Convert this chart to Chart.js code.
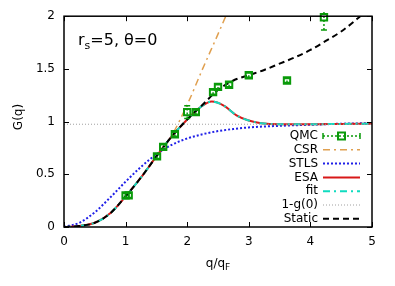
<!DOCTYPE html>
<html>
<head>
<meta charset="utf-8">
<script src="https://cdn.jsdelivr.net/npm/chart.js@4.4.1/dist/chart.umd.min.js"></script>
<style>
  body { margin: 0; background: #fff; }
</style>
</head>
<body>
<canvas id="chart" width="395" height="286"></canvas>
<script>
// values
const qmcQ   = [1.0, 1.05, 1.51, 1.61, 1.80, 2.0, 2.14, 2.42, 2.50, 2.68, 3.0, 3.62, 4.22];
const qmcG   = [0.30, 0.30, 0.67, 0.76, 0.88, 1.09, 1.09, 1.28, 1.33, 1.35, 1.44, 1.39, 1.99];
const qmcErr = [0.02, 0.02, 0.02, 0.02, 0.02, 0.06, 0.02, 0.02, 0.02, 0.02, 0.02, 0.02, 0.12];

const csrQ = [0, 0.25, 0.5, 0.75, 1.0, 1.25, 1.5, 1.75, 2.0, 2.25, 2.5, 2.7];
const csrG = [0, 0.01, 0.04, 0.13, 0.29, 0.47, 0.67, 0.87, 1.16, 1.50, 1.83, 2.10];

const stlsQ = [0, 0.25, 0.5, 0.75, 1.0, 1.25, 1.5, 1.75, 2.0, 2.25, 2.5, 2.75, 3.0, 3.5, 4.0, 4.5, 5.0];
const stlsG = [0, 0.04, 0.14, 0.28, 0.43, 0.57, 0.69, 0.78, 0.84, 0.88, 0.91, 0.93, 0.945, 0.96, 0.97, 0.98, 0.985];

const esaQ = [0, 0.25, 0.5, 0.75, 1.0, 1.25, 1.5, 1.75, 2.0, 2.2, 2.4, 2.6, 2.8, 3.0, 3.2, 3.5, 4.0, 4.5, 5.0];
const esaG = [0, 0.01, 0.04, 0.13, 0.29, 0.47, 0.67, 0.86, 1.02, 1.13, 1.19, 1.15, 1.06, 1.01, 0.985, 0.975, 0.975, 0.978, 0.98];

const fitQ = [0, 0.25, 0.5, 0.75, 1.0, 1.25, 1.5, 1.75, 2.0, 2.2, 2.4, 2.6, 2.8, 3.0, 3.2, 3.5, 4.0, 4.5, 5.0];
const fitG = [0, 0.01, 0.04, 0.13, 0.29, 0.47, 0.67, 0.86, 1.02, 1.13, 1.19, 1.15, 1.06, 1.01, 0.985, 0.975, 0.975, 0.978, 0.98];

const oneMinusG0 = 0.975;

const staticQ = [0, 0.25, 0.5, 0.75, 1.0, 1.25, 1.5, 1.75, 2.0, 2.25, 2.5, 2.75, 3.0, 3.25, 3.5, 3.75, 4.0, 4.25, 4.5, 4.75, 4.9];
const staticG = [0, 0.01, 0.04, 0.13, 0.29, 0.47, 0.67, 0.86, 1.02, 1.16, 1.30, 1.39, 1.44, 1.49, 1.55, 1.61, 1.68, 1.765, 1.855, 1.97, 2.05];

const xTicks = [0, 1, 2, 3, 4, 5];
const yTicks = [0, 0.5, 1, 1.5, 2];

const GREEN = '#0a9a0a';
const FONT = '"DejaVu Sans", sans-serif';

const pts = (xs, ys) => xs.map((x, i) => ({ x: x, y: ys[i] }));

const legendItems = [
  { label: 'QMC', color: GREEN, dash: [2, 2], width: 1.5, marker: true },
  { label: 'CSR', color: '#e0a050', dash: [7, 4, 2, 4], width: 1.5 },
  { label: 'STLS', color: '#2020e8', dash: [2, 2], width: 2 },
  { label: 'ESA', color: '#d81818', dash: [], width: 2 },
  { label: 'fit', color: '#10dcc0', dash: [7, 4, 2, 4], width: 2 },
  { label: '1-g(0)', color: '#a0a0a0', dash: [1, 2], width: 1 },
  { label: 'Static', color: '#000', dash: [6, 4], width: 2 }
];

// inside ticks, border box, error bars, legend and texts
const extras = {
  id: 'extras',
  afterDatasetsDraw(chart) {
    const ctx = chart.ctx;
    const a = chart.chartArea;
    const xs = chart.scales.x, ys = chart.scales.y;
    ctx.save();

    // error bars for QMC
    ctx.beginPath();
    ctx.rect(a.left, a.top - 6, a.right - a.left, a.bottom - a.top + 6);
    ctx.clip();
    ctx.strokeStyle = GREEN;
    ctx.lineWidth = 1.5;
    qmcQ.forEach((q, i) => {
      const px = xs.getPixelForValue(q);
      const y1 = ys.getPixelForValue(qmcG[i] - qmcErr[i]);
      const y2 = ys.getPixelForValue(qmcG[i] + qmcErr[i]);
      ctx.setLineDash([2, 2]);
      ctx.beginPath(); ctx.moveTo(px, y1); ctx.lineTo(px, y2); ctx.stroke();
      ctx.setLineDash([]);
      ctx.beginPath();
      ctx.moveTo(px - 3, y1); ctx.lineTo(px + 3, y1);
      ctx.moveTo(px - 3, y2); ctx.lineTo(px + 3, y2);
      ctx.stroke();
    });
    ctx.restore();
    ctx.save();

    // border + inside ticks
    ctx.strokeStyle = '#000';
    ctx.lineWidth = 1.5;
    ctx.setLineDash([]);
    ctx.strokeRect(a.left, a.top, a.right - a.left, a.bottom - a.top);
    ctx.lineWidth = 1;
    ctx.beginPath();
    xTicks.forEach(t => {
      const px = Math.round(xs.getPixelForValue(t)) + 0.5;
      ctx.moveTo(px, a.bottom); ctx.lineTo(px, a.bottom - 5);
      ctx.moveTo(px, a.top); ctx.lineTo(px, a.top + 5);
    });
    yTicks.forEach(t => {
      const py = Math.round(ys.getPixelForValue(t)) + 0.5;
      ctx.moveTo(a.left, py); ctx.lineTo(a.left + 5, py);
      ctx.moveTo(a.right, py); ctx.lineTo(a.right - 5, py);
    });
    ctx.stroke();

    // legend
    ctx.font = '12px ' + FONT;
    ctx.textAlign = 'right';
    ctx.textBaseline = 'middle';
    legendItems.forEach((it, i) => {
      const y = 136 + i * 13.8;
      ctx.fillStyle = '#000';
      ctx.fillText(it.label, 318, y);
      ctx.strokeStyle = it.color;
      ctx.lineWidth = it.width;
      ctx.setLineDash(it.dash);
      ctx.beginPath(); ctx.moveTo(323, y); ctx.lineTo(360, y); ctx.stroke();
      if (it.marker) {
        ctx.setLineDash([]);
        ctx.lineWidth = 1.5;
        ctx.beginPath();
        ctx.moveTo(323, y - 3); ctx.lineTo(323, y + 3);
        ctx.moveTo(360, y - 3); ctx.lineTo(360, y + 3);
        ctx.stroke();
        ctx.lineWidth = 2;
        ctx.strokeRect(338, y - 3.5, 7, 7);
      }
    });

    // annotation r_s=5, θ=0
    ctx.fillStyle = '#000';
    ctx.textAlign = 'left';
    ctx.textBaseline = 'alphabetic';
    ctx.font = '16px ' + FONT;
    let x = 78;
    ctx.fillText('r', x, 45);
    x += ctx.measureText('r').width;
    ctx.font = '11px ' + FONT;
    ctx.fillText('s', x, 49);
    x += ctx.measureText('s').width;
    ctx.font = '16px ' + FONT;
    ctx.fillText('=5, θ=0', x, 45);

    // axis titles
    ctx.font = '12px ' + FONT;
    const w1 = ctx.measureText('q/q').width;
    ctx.font = '9px ' + FONT;
    const w2 = ctx.measureText('F').width;
    let tx = 218 - (w1 + w2) / 2;
    ctx.font = '12px ' + FONT;
    ctx.fillText('q/q', tx, 267);
    ctx.font = '9px ' + FONT;
    ctx.fillText('F', tx + w1, 270);

    ctx.font = '12px ' + FONT;
    ctx.translate(19, 117);
    ctx.rotate(-Math.PI / 2);
    ctx.textAlign = 'center';
    ctx.textBaseline = 'middle';
    ctx.fillText('G(q)', 0, 0);
    ctx.restore();
  }
};

const line = (data, color, dash, width, order) => ({
  data: data,
  showLine: true,
  borderColor: color,
  borderWidth: width,
  borderDash: dash,
  pointRadius: 0,
  fill: false,
  cubicInterpolationMode: 'monotone',
  order: order
});

new Chart(document.getElementById('chart'), {
  type: 'scatter',
  data: {
    datasets: [
      {
        data: pts(qmcQ, qmcG),
        showLine: false,
        pointStyle: 'rect',
        pointRadius: 4.5,
        pointBorderWidth: 2,
        pointBorderColor: GREEN,
        pointBackgroundColor: 'rgba(255,255,255,0)',
        clip: false,
        order: 0
      },
      line(pts(staticQ, staticG), '#000', [6, 4], 2, 1),
      line(pts([0, 5], [oneMinusG0, oneMinusG0]), '#a0a0a0', [1, 2], 1, 2),
      line(pts(fitQ, fitG), '#10dcc0', [7, 4, 2, 4], 2, 3),
      line(pts(esaQ, esaG), '#d81818', [], 2, 4),
      line(pts(stlsQ, stlsG), '#2020e8', [2, 2], 2, 5),
      line(pts(csrQ, csrG), '#e0a050', [7, 4, 2, 4], 1.5, 6)
    ]
  },
  options: {
    responsive: false,
    animation: false,
    layout: { padding: { left: 0, top: 14, right: 23, bottom: 0 } },
    plugins: { legend: { display: false }, tooltip: { enabled: false } },
    scales: {
      x: {
        type: 'linear', min: 0, max: 5,
        afterFit: s => { s.height = 59; },
        afterBuildTicks: s => { s.ticks = xTicks.map(v => ({ value: v })); },
        grid: { display: false, drawTicks: false },
        border: { display: false },
        ticks: { padding: 8, color: '#000', font: { family: FONT, size: 12 }, callback: v => String(v) }
      },
      y: {
        type: 'linear', min: 0, max: 2,
        afterFit: s => { s.width = 64; },
        afterBuildTicks: s => { s.ticks = yTicks.map(v => ({ value: v })); },
        grid: { display: false, drawTicks: false },
        border: { display: false },
        ticks: { padding: 9, color: '#000', font: { family: FONT, size: 12 }, callback: v => String(v) }
      }
    }
  },
  plugins: [extras]
});
</script>
</body>
</html>
